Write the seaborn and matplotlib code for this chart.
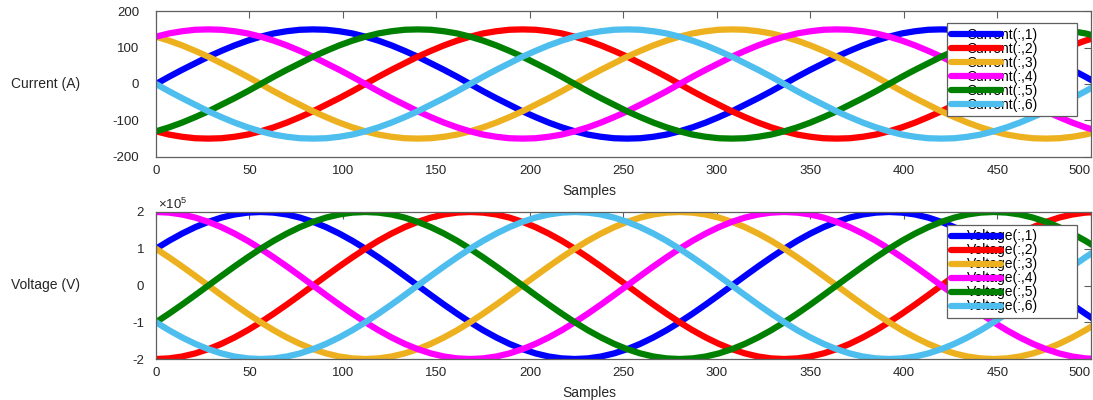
import matplotlib
matplotlib.use("Agg")
import matplotlib.pyplot as plt
import pandas as pd
import seaborn as sns
from matplotlib.lines import Line2D
from matplotlib.ticker import FuncFormatter

# Sample index of each stored point
samples = [0, 7, 14, 21, 28, 35, 42, 49, 56, 63, 70, 77, 84, 91, 98, 105, 112,
           119, 126, 133, 140, 147, 154, 161, 168, 175, 182, 189, 196, 203, 210,
           217, 224, 231, 238, 245, 252, 259, 266, 273, 280, 287, 294, 301, 308,
           315, 322, 329, 336, 343, 350, 357, 364, 371, 378, 385, 392, 399, 406,
           413, 420, 427, 434, 441, 448, 455, 462, 469, 476, 483, 490, 497, 504]

# Phase currents (A)
current_1 = [0, 20, 39, 57, 75, 91, 106, 119, 130, 139, 145, 149,
             150, 149, 145, 139, 130, 119, 106, 91, 75, 57, 39, 20,
             0, -20, -39, -57, -75, -91, -106, -119, -130, -139, -145, -149,
             -150, -149, -145, -139, -130, -119, -106, -91, -75, -57, -39, -20,
             0, 20, 39, 57, 75, 91, 106, 119, 130, 139, 145, 149,
             150, 149, 145, 139, 130, 119, 106, 91, 75, 57, 39, 20,
             0]
current_2 = [-130, -139, -145, -149, -150, -149, -145, -139, -130, -119, -106, -91,
             -75, -57, -39, -20, 0, 20, 39, 57, 75, 91, 106, 119,
             130, 139, 145, 149, 150, 149, 145, 139, 130, 119, 106, 91,
             75, 57, 39, 20, 0, -20, -39, -57, -75, -91, -106, -119,
             -130, -139, -145, -149, -150, -149, -145, -139, -130, -119, -106, -91,
             -75, -57, -39, -20, 0, 20, 39, 57, 75, 91, 106, 119,
             130]
current_3 = [130, 119, 106, 91, 75, 57, 39, 20, 0, -20, -39, -57,
             -75, -91, -106, -119, -130, -139, -145, -149, -150, -149, -145, -139,
             -130, -119, -106, -91, -75, -57, -39, -20, 0, 20, 39, 57,
             75, 91, 106, 119, 130, 139, 145, 149, 150, 149, 145, 139,
             130, 119, 106, 91, 75, 57, 39, 20, 0, -20, -39, -57,
             -75, -91, -106, -119, -130, -139, -145, -149, -150, -149, -145, -139,
             -130]
current_4 = [130, 139, 145, 149, 150, 149, 145, 139, 130, 119, 106, 91,
             75, 57, 39, 20, 0, -20, -39, -57, -75, -91, -106, -119,
             -130, -139, -145, -149, -150, -149, -145, -139, -130, -119, -106, -91,
             -75, -57, -39, -20, 0, 20, 39, 57, 75, 91, 106, 119,
             130, 139, 145, 149, 150, 149, 145, 139, 130, 119, 106, 91,
             75, 57, 39, 20, 0, -20, -39, -57, -75, -91, -106, -119,
             -130]
current_5 = [-130, -119, -106, -91, -75, -57, -39, -20, 0, 20, 39, 57,
             75, 91, 106, 119, 130, 139, 145, 149, 150, 149, 145, 139,
             130, 119, 106, 91, 75, 57, 39, 20, 0, -20, -39, -57,
             -75, -91, -106, -119, -130, -139, -145, -149, -150, -149, -145, -139,
             -130, -119, -106, -91, -75, -57, -39, -20, 0, 20, 39, 57,
             75, 91, 106, 119, 130, 139, 145, 149, 150, 149, 145, 139,
             130]
current_6 = [0, -20, -39, -57, -75, -91, -106, -119, -130, -139, -145, -149,
             -150, -149, -145, -139, -130, -119, -106, -91, -75, -57, -39, -20,
             0, 20, 39, 57, 75, 91, 106, 119, 130, 139, 145, 149,
             150, 149, 145, 139, 130, 119, 106, 91, 75, 57, 39, 20,
             0, -20, -39, -57, -75, -91, -106, -119, -130, -139, -145, -149,
             -150, -149, -145, -139, -130, -119, -106, -91, -75, -57, -39, -20,
             0]

# Phase voltages (V)
voltage_1 = [100000, 121800, 141400, 158700, 173200, 184800, 193200, 198300, 200000, 198300, 193200, 184800,
             173200, 158700, 141400, 121800, 100000, 76500, 51800, 26100, 0, -26100, -51800, -76500,
             -100000, -121800, -141400, -158700, -173200, -184800, -193200, -198300, -200000, -198300, -193200, -184800,
             -173200, -158700, -141400, -121800, -100000, -76500, -51800, -26100, 0, 26100, 51800, 76500,
             100000, 121800, 141400, 158700, 173200, 184800, 193200, 198300, 200000, 198300, 193200, 184800,
             173200, 158700, 141400, 121800, 100000, 76500, 51800, 26100, 0, -26100, -51800, -76500,
             -100000]
voltage_2 = [-200000, -198300, -193200, -184800, -173200, -158700, -141400, -121800, -100000, -76500, -51800, -26100,
             0, 26100, 51800, 76500, 100000, 121800, 141400, 158700, 173200, 184800, 193200, 198300,
             200000, 198300, 193200, 184800, 173200, 158700, 141400, 121800, 100000, 76500, 51800, 26100,
             0, -26100, -51800, -76500, -100000, -121800, -141400, -158700, -173200, -184800, -193200, -198300,
             -200000, -198300, -193200, -184800, -173200, -158700, -141400, -121800, -100000, -76500, -51800, -26100,
             0, 26100, 51800, 76500, 100000, 121800, 141400, 158700, 173200, 184800, 193200, 198300,
             200000]
voltage_3 = [100000, 76500, 51800, 26100, 0, -26100, -51800, -76500, -100000, -121800, -141400, -158700,
             -173200, -184800, -193200, -198300, -200000, -198300, -193200, -184800, -173200, -158700, -141400, -121800,
             -100000, -76500, -51800, -26100, 0, 26100, 51800, 76500, 100000, 121800, 141400, 158700,
             173200, 184800, 193200, 198300, 200000, 198300, 193200, 184800, 173200, 158700, 141400, 121800,
             100000, 76500, 51800, 26100, 0, -26100, -51800, -76500, -100000, -121800, -141400, -158700,
             -173200, -184800, -193200, -198300, -200000, -198300, -193200, -184800, -173200, -158700, -141400, -121800,
             -100000]
voltage_4 = [200000, 198300, 193200, 184800, 173200, 158700, 141400, 121800, 100000, 76500, 51800, 26100,
             0, -26100, -51800, -76500, -100000, -121800, -141400, -158700, -173200, -184800, -193200, -198300,
             -200000, -198300, -193200, -184800, -173200, -158700, -141400, -121800, -100000, -76500, -51800, -26100,
             0, 26100, 51800, 76500, 100000, 121800, 141400, 158700, 173200, 184800, 193200, 198300,
             200000, 198300, 193200, 184800, 173200, 158700, 141400, 121800, 100000, 76500, 51800, 26100,
             0, -26100, -51800, -76500, -100000, -121800, -141400, -158700, -173200, -184800, -193200, -198300,
             -200000]
voltage_5 = [-100000, -76500, -51800, -26100, 0, 26100, 51800, 76500, 100000, 121800, 141400, 158700,
             173200, 184800, 193200, 198300, 200000, 198300, 193200, 184800, 173200, 158700, 141400, 121800,
             100000, 76500, 51800, 26100, 0, -26100, -51800, -76500, -100000, -121800, -141400, -158700,
             -173200, -184800, -193200, -198300, -200000, -198300, -193200, -184800, -173200, -158700, -141400, -121800,
             -100000, -76500, -51800, -26100, 0, 26100, 51800, 76500, 100000, 121800, 141400, 158700,
             173200, 184800, 193200, 198300, 200000, 198300, 193200, 184800, 173200, 158700, 141400, 121800,
             100000]
voltage_6 = [-100000, -121800, -141400, -158700, -173200, -184800, -193200, -198300, -200000, -198300, -193200, -184800,
             -173200, -158700, -141400, -121800, -100000, -76500, -51800, -26100, 0, 26100, 51800, 76500,
             100000, 121800, 141400, 158700, 173200, 184800, 193200, 198300, 200000, 198300, 193200, 184800,
             173200, 158700, 141400, 121800, 100000, 76500, 51800, 26100, 0, -26100, -51800, -76500,
             -100000, -121800, -141400, -158700, -173200, -184800, -193200, -198300, -200000, -198300, -193200, -184800,
             -173200, -158700, -141400, -121800, -100000, -76500, -51800, -26100, 0, 26100, 51800, 76500,
             100000]

current_labels = ["Current(:,1)", "Current(:,2)", "Current(:,3)",
                  "Current(:,4)", "Current(:,5)", "Current(:,6)"]
voltage_labels = ["Voltage(:,1)", "Voltage(:,2)", "Voltage(:,3)",
                  "Voltage(:,4)", "Voltage(:,5)", "Voltage(:,6)"]
x_ticks = [0, 50, 100, 150, 200, 250, 300, 350, 400, 450, 500]
current_ticks = [-200, -100, 0, 100, 200]
voltage_ticks = [-200000, -100000, 0, 100000, 200000]
voltage_scale = 1e5

colors = ["#0000FF", "#FF0000", "#EDB120", "#FF00FF", "#008000", "#4DBEEE"]

sns.set_style("white")
plt.rcParams["font.family"] = ["Liberation Sans", "DejaVu Sans"]
plt.rcParams["axes.unicode_minus"] = False
plt.rcParams["mathtext.fontset"] = "custom"
plt.rcParams["mathtext.rm"] = "Liberation Sans"
plt.rcParams["mathtext.it"] = "Liberation Sans:italic"
plt.rcParams["mathtext.bf"] = "Liberation Sans:bold"

TEXT = "#262626"
EDGE = "#5f5f5f"
TICK_FS = 9.5
LABEL_FS = 10
LEG_FS = 10

fig = plt.figure(figsize=(10.93, 4.0), dpi=100)
ax_i = fig.add_axes([0.1427, 0.608, 0.8554, 0.364])
ax_v = fig.add_axes([0.1427, 0.1025, 0.8554, 0.3675])


def draw_panel(ax, series, labels, ylabel, yticks, anchor, ypad):
    wide = pd.DataFrame({"Samples": samples})
    for lab, vals in zip(labels, series):
        wide[lab] = vals
    long = wide.melt(id_vars="Samples", var_name="series", value_name="value")
    sns.lineplot(data=long, x="Samples", y="value", hue="series",
                 hue_order=labels, palette=dict(zip(labels, colors)),
                 linewidth=4.5, estimator=None, legend=False, ax=ax)

    ax.set_xlim(0, 500)
    ax.set_ylim(yticks[0], yticks[-1])
    ax.set_xticks(x_ticks)
    ax.set_yticks(yticks)
    ax.tick_params(direction="in", length=5, width=0.8, top=True, right=True,
                   colors=EDGE, labelcolor=TEXT, labelsize=TICK_FS)
    ax.tick_params(axis="x", pad=6)
    ax.tick_params(axis="y", pad=ypad)
    for sp in ax.spines.values():
        sp.set_color(EDGE)
        sp.set_linewidth(0.9)

    ax.set_xlabel("Samples", fontsize=LABEL_FS, color=TEXT, va="top")
    ax.xaxis.set_label_coords(0.463, -0.185)
    ax.set_ylabel(ylabel, fontsize=LABEL_FS, color=TEXT, rotation=0,
                  ha="center", va="center")
    ax.yaxis.set_label_coords(-0.118, 0.5)

    # Legend: frame and names underneath, colour swatches laid over the names.
    # An empty second column widens the box on the right.
    lines = ax.get_lines()[:len(labels)]
    blanks = [Line2D([], [], color="none", lw=0) for _ in labels]
    entries = list(labels) + [""] * len(labels)
    kw = dict(loc="upper right", bbox_to_anchor=anchor, borderaxespad=0,
              ncols=2, columnspacing=1.4, handlelength=3.6,
              handletextpad=-2.5, labelspacing=0.0, borderpad=0.32,
              fontsize=LEG_FS, fancybox=False, framealpha=1, edgecolor=EDGE)
    base = ax.legend(lines + blanks, entries, **kw)
    base.get_frame().set_linewidth(0.9)
    for h in base.legend_handles:
        h.set_alpha(0)
    for t in base.get_texts():
        t.set_color("black")
    ax.add_artist(base)
    top = ax.legend(lines + blanks, entries, frameon=False, **kw)
    for t in top.get_texts():
        t.set_alpha(0)
    top.set_zorder(6)


draw_panel(ax_i, [current_1, current_2, current_3, current_4, current_5, current_6],
           current_labels, "Current (A)", current_ticks, (0.985, 0.918), 12)
draw_panel(ax_v, [voltage_1, voltage_2, voltage_3, voltage_4, voltage_5, voltage_6],
           voltage_labels, "Voltage (V)", voltage_ticks, (0.985, 0.912), 8.5)

ax_v.yaxis.set_major_formatter(FuncFormatter(lambda v, _: f"{v / voltage_scale:g}"))
ax_v.text(0.002, 1.0, r"$\times10^{5}$", transform=ax_v.transAxes,
          ha="left", va="bottom", fontsize=TICK_FS, color=TEXT)

fig.canvas.draw()
for ax in (ax_i, ax_v):
    ax.get_xticklabels()[-1].set_horizontalalignment("right")

fig.savefig("out.png", dpi=100, facecolor="white")
